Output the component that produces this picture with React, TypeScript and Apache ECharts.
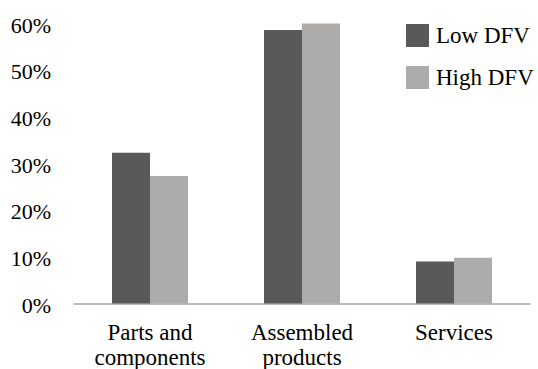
import React, { useEffect, useRef } from "react";
import * as echarts from "echarts";

const categories = ["Parts and\ncomponents", "Assembled\nproducts", "Services"];
const lowDFV = [32.3, 58.6, 9.0];
const highDFV = [27.3, 60.0, 9.8];
const seriesNames = ["Low DFV", "High DFV"];
const yTicks = [0, 10, 20, 30, 40, 50, 60];

const FONT = "Liberation Serif";
const LABEL_FONT = "Times New Roman";

export default function App() {
  const ref = useRef<HTMLDivElement>(null);
  useEffect(() => {
    if (!ref.current) return;
    const chart = echarts.init(ref.current, undefined, { renderer: "svg" });
    chart.setOption({
      animation: false,
      textStyle: { fontFamily: FONT },
      grid: { left: 74, right: 8, top: 23.5, bottom: 65.5, containLabel: false },
      legend: {
        orient: "vertical",
        left: 401,
        top: 19,
        itemWidth: 23,
        itemHeight: 23,
        itemGap: 19,
        icon: "rect",
        textStyle: { fontFamily: FONT, fontSize: 23, color: "#000", padding: [0, 0, 0, 2] },
        data: seriesNames,
      },
      xAxis: {
        type: "category",
        data: categories,
        axisLine: { lineStyle: { color: "#a6a6a6", width: 1.5 } },
        axisTick: { show: false },
        axisLabel: { show: false },
      },
      yAxis: {
        type: "value",
        min: yTicks[0],
        max: yTicks[yTicks.length - 1],
        interval: 10,
        axisLine: { show: false },
        axisTick: { show: false },
        splitLine: { show: false },
        axisLabel: { show: false },
      },
      series: [
        { name: seriesNames[0], type: "bar", data: lowDFV, barWidth: 38, barGap: "0%", itemStyle: { color: "#595959" } },
        { name: seriesNames[1], type: "bar", data: highDFV, barWidth: 38, barGap: "0%", itemStyle: { color: "#aeabab" } },
      ],
    });

    const graphics: any[] = [];
    yTicks.forEach((v) => {
      const p = chart.convertToPixel({ gridIndex: 0 }, [0, v]) as number[];
      graphics.push({
        type: "text",
        x: 51,
        y: p[1] + 1.5,
        silent: true,
        style: {
          text: v + "%",
          fontFamily: LABEL_FONT,
          fontSize: 22,
          fill: "#000",
          align: "right",
          verticalAlign: "middle",
        },
      });
    });
    const base = chart.convertToPixel({ gridIndex: 0 }, [0, 0]) as number[];
    categories.forEach((c, i) => {
      const p = chart.convertToPixel({ gridIndex: 0 }, [i, 0]) as number[];
      graphics.push({
        type: "text",
        x: p[0],
        y: base[1] + 16,
        silent: true,
        style: {
          text: c,
          fontFamily: LABEL_FONT,
          fontSize: 23,
          lineHeight: 25,
          fill: "#000",
          align: "center",
          verticalAlign: "top",
        },
      });
    });
    chart.setOption({ graphic: graphics });

    return () => chart.dispose();
  }, []);
  return <div ref={ref} style={{ width: 538, height: 369, position: "absolute", left: 0, top: 0 }} />;
}
